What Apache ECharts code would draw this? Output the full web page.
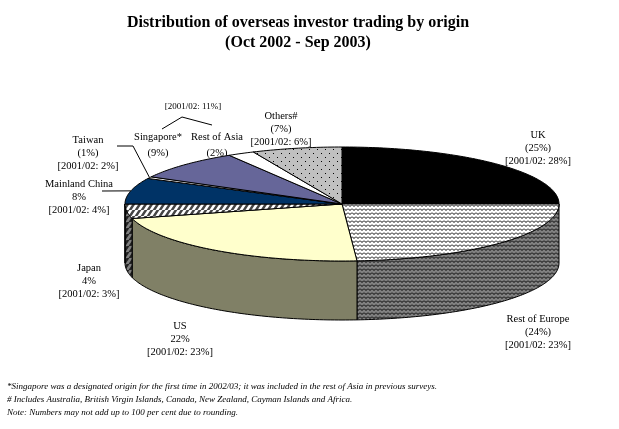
<!DOCTYPE html>
<html><head><meta charset="utf-8">
<script src="https://cdn.jsdelivr.net/npm/echarts@6/dist/echarts.min.js"></script>
<style>html,body{margin:0;padding:0;background:#fff}#c{width:619px;height:429px}</style>
</head><body><div id="c"></div>
<script>
// ---- data ----
const categories = ['UK', 'Rest of Europe', 'US', 'Japan', 'Mainland China', 'Taiwan', 'Singapore*', 'Rest of Asia', 'Others#'];
// slice sizes (per cent, unrounded estimates)
const sliceValues = [25, 23.9, 22, 4.1, 7.4, 0.5, 8.4, 2, 6.7];
// rounded shares printed in the labels
const shares = [25, 24, 22, 4, 8, 1, 9, 2, 7];
const prevShares = [28, 23, 23, 3, 4, 2, null, null, 6];
const parenShare = [true, true, false, false, false, true, true, true, true];
const singaporeRoaPrev = '[2001/02: 11%]';
const titleLines = ['Distribution of overseas investor trading by origin', '(Oct 2002 - Sep 2003)'];
const footnotes = [
  '*Singapore was a designated origin for the first time in 2002/03; it was included in the rest of Asia in previous surveys.',
  '# Includes Australia, British Virgin Islands, Canada, New Zealand, Cayman Islands and Africa.',
  'Note: Numbers may not add up to 100 per cent due to rounding.'
];

// ---- layout / style ----
const CX = 342, CY = 204, RX = 217, RY = 57, DEPTH = 59;
const SERIF = '"Liberation Serif","Times New Roman",serif';
const labelPos = [[538, 135], [538, 319], [180, 326], [89, 268], [79, 184], [88, 140], [158, 137], [217, 137], [281, 116]];
const labelGap = 13;

function mk(w, h, draw) { const c = document.createElement('canvas'); c.width = w; c.height = h; const g = c.getContext('2d'); draw(g); return c; }
function zigzag(bg) {
  return mk(4, 4, g => { g.fillStyle = bg; g.fillRect(0, 0, 4, 4); g.strokeStyle = '#000'; g.lineWidth = 1;
    g.beginPath(); g.moveTo(0, 0.5); g.lineTo(2, 2.5); g.lineTo(4, 0.5); g.stroke(); });
}
function stripes(bg, fg) {
  return mk(6, 6, g => { g.fillStyle = bg; g.fillRect(0, 0, 6, 6); g.strokeStyle = fg; g.lineWidth = 2.4;
    g.beginPath(); for (let k = -6; k <= 12; k += 6) { g.moveTo(k - 6, 6 + 6); g.lineTo(k + 6, 0 - 6); } g.stroke(); });
}
function dots(bg) {
  return mk(8, 8, g => { g.fillStyle = bg; g.fillRect(0, 0, 8, 8); g.fillStyle = '#000'; g.fillRect(1, 1, 1, 1); g.fillRect(5, 5, 1, 1); });
}
const pat = c => ({ image: c, repeat: 'repeat' });
const topFill = ['#000000', pat(zigzag('#ffffff')), '#ffffcc', pat(stripes('#ffffff', '#444444')), '#003366', '#ffffff', '#666699', '#ffffff', pat(dots('#c0c0c0'))];
const sideFill = ['#000000', pat(zigzag('#808080')), '#808066', pat(stripes('#808080', '#222222')), '#001a33', '#808080', '#33334d', '#808080', pat(dots('#606060'))];

// ---- geometry from data ----
const total = sliceValues.reduce((a, b) => a + b, 0);
const startA = [], endA = [];
let acc = 0;
sliceValues.forEach(v => { startA.push(acc / total * 360); acc += v; endA.push(acc / total * 360); });
function pt(deg, dy) { const r = deg * Math.PI / 180; return [CX + RX * Math.sin(r), CY - RY * Math.cos(r) + (dy || 0)]; }
function arc(a0, a1, dy) { const out = []; const n = Math.max(2, Math.ceil(Math.abs(a1 - a0))); for (let i = 0; i <= n; i++) out.push(pt(a0 + (a1 - a0) * i / n, dy)); return out; }

const data = sliceValues.map((v, i) => ({ name: categories[i], value: v }));

function renderTop(params, api) {
  const i = params.dataIndex;
  const pts = [[CX, CY]].concat(arc(startA[i], endA[i]));
  return { type: 'polygon', shape: { points: pts }, style: { fill: topFill[i], stroke: '#000', lineWidth: 1 } };
}
function renderSide(params, api) {
  const i = params.dataIndex;
  const s = Math.max(startA[i], 90), e = Math.min(endA[i], 270);
  if (e <= s) return { type: 'group', children: [] };
  const pts = arc(s, e).concat(arc(e, s, DEPTH));
  return { type: 'polygon', shape: { points: pts }, style: { fill: sideFill[i], stroke: '#000', lineWidth: 1 } };
}

// ---- text ----
const graphics = [];
titleLines.forEach((t, k) => graphics.push({ type: 'text', style: { text: t, x: 298, y: 23 + k * 20, align: 'center', verticalAlign: 'middle', font: 'bold 16px ' + SERIF, fill: '#000' } }));
footnotes.forEach((t, k) => graphics.push({ type: 'text', style: { text: t, x: 7, y: 387 + k * 13, align: 'left', verticalAlign: 'middle', font: 'italic 9px ' + SERIF, fill: '#000' } }));
categories.forEach((c, i) => {
  const lines = [c, parenShare[i] ? '(' + shares[i] + '%)' : shares[i] + '%'];
  if (prevShares[i] != null) lines.push('[2001/02: ' + prevShares[i] + '%]');
  const [x, y] = labelPos[i];
  lines.forEach((t, k) => graphics.push({ type: 'text', style: { text: t, x: x, y: y + k * (k === 1 && i >= 6 && i <= 7 ? 16 : labelGap), align: 'center', verticalAlign: 'middle', font: '10.5px ' + SERIF, fill: '#000' } }));
});
graphics.push({ type: 'text', style: { text: singaporeRoaPrev, x: 193, y: 107, align: 'center', verticalAlign: 'middle', font: '9px ' + SERIF, fill: '#000' } });
graphics.push({ type: 'polyline', shape: { points: [[162, 129], [182, 117], [212, 125]] }, style: { stroke: '#000', lineWidth: 1, fill: null } });
// leader lines to slice mid-points
const mid = i => (startA[i] + endA[i]) / 2;
const mcEnd = pt(mid(4));
graphics.push({ type: 'polyline', shape: { points: [[102, 191], mcEnd] }, style: { stroke: '#000', lineWidth: 1, fill: null } });
const twEnd = pt(mid(5));
graphics.push({ type: 'polyline', shape: { points: [[117, 146], [133, 146], twEnd] }, style: { stroke: '#000', lineWidth: 1, fill: null } });

const chart = echarts.init(document.getElementById('c'), null, { renderer: 'canvas' });
chart.setOption({
  backgroundColor: '#ffffff',
  animation: false,
  series: [
    { type: 'custom', coordinateSystem: 'none', renderItem: renderSide, data: data, z: 1 },
    { type: 'custom', coordinateSystem: 'none', renderItem: renderTop, data: data, z: 2 }
  ],
  graphic: graphics
});
</script></body></html>
